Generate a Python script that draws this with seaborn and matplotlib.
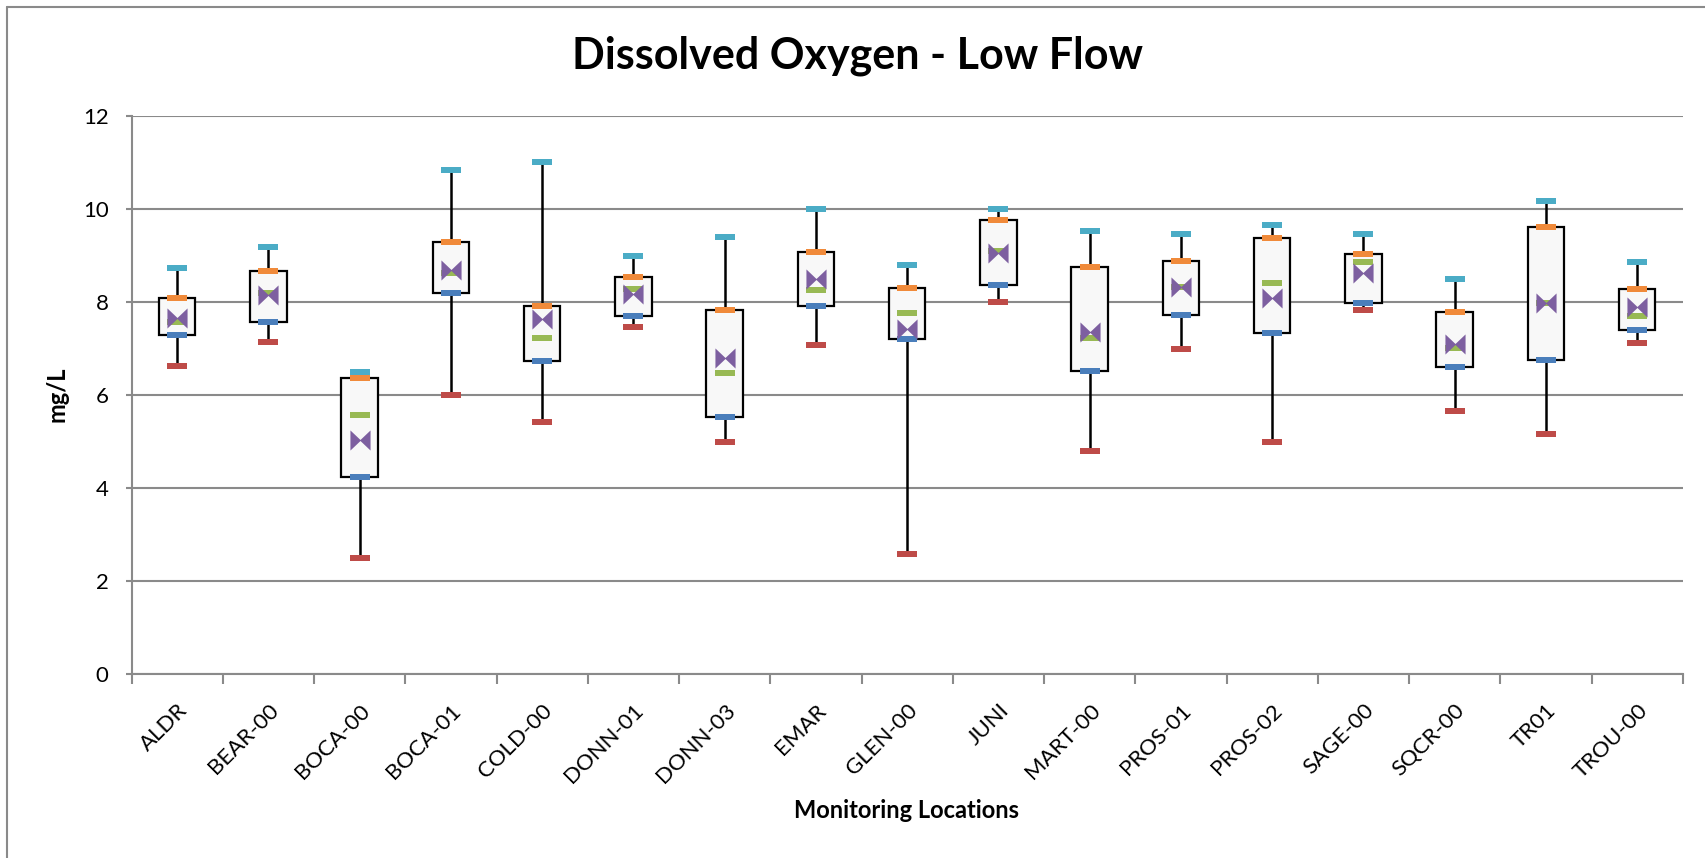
import numpy as np
import pandas as pd
import matplotlib
matplotlib.use("Agg")
import matplotlib.pyplot as plt
import seaborn as sns
from matplotlib.lines import Line2D

# valores (mg/L)
locations = ["ALDR", "BEAR-00", "BOCA-00", "BOCA-01", "COLD-00", "DONN-01",
             "DONN-03", "EMAR", "GLEN-00", "JUNI", "MART-00", "PROS-01",
             "PROS-02", "SAGE-00", "SQCR-00", "TR01", "TROU-00"]
do_min = [6.63, 7.14, 2.50, 6.00, 5.43, 7.47, 5.00, 7.07, 2.59, 8.00, 4.80, 7.00,
          5.00, 7.83, 5.67, 5.16, 7.13]
do_q1 = [7.30, 7.57, 4.25, 8.21, 6.73, 7.70, 5.52, 7.91, 7.20, 8.37, 6.53, 7.72,
         7.34, 7.99, 6.61, 6.75, 7.41]
do_median = [7.57, 8.21, 5.58, 8.64, 7.23, 8.28, 6.47, 8.27, 7.76, 9.10, 7.23, 8.32,
             8.42, 8.87, 7.01, 7.99, 7.71]
do_q3 = [8.09, 8.67, 6.38, 9.29, 7.93, 8.54, 7.84, 9.08, 8.30, 9.78, 8.75, 8.89,
         9.39, 9.03, 7.80, 9.63, 8.28]
do_max = [8.73, 9.20, 6.49, 10.84, 11.01, 9.00, 9.40, 10.00, 8.80, 10.00, 9.53, 9.47,
          9.66, 9.47, 8.50, 10.19, 8.87]
do_mean = [7.66, 8.15, 5.04, 8.69, 7.63, 8.18, 6.79, 8.50, 7.43, 9.06, 7.37, 8.33,
           8.10, 8.63, 7.10, 7.99, 7.89]

sns.set_style("white")
plt.rcParams["font.family"] = ["Lato", "DejaVu Sans"]
plt.rcParams["text.color"] = "black"
plt.rcParams["xtick.color"] = "black"
plt.rcParams["ytick.color"] = "black"

grid_col = "#8a8a8a"
fig = plt.figure(figsize=(17.05, 8.58), dpi=100)
ax = fig.add_axes([0.0772, 0.2145, 0.9098, 0.6498])

pos = np.arange(len(locations))

# cajas: Q1-Q3 y bigotes min-max
stats = []
for i in range(len(locations)):
    stats.append({"med": do_median[i], "q1": do_q1[i], "q3": do_q3[i],
                  "whislo": do_min[i], "whishi": do_max[i], "fliers": []})
ax.bxp(stats, positions=pos, widths=0.4, patch_artist=True, showcaps=False,
       boxprops=dict(facecolor="#f8f8f8", edgecolor="black", linewidth=1.6),
       whiskerprops=dict(color="black", linewidth=1.8),
       medianprops=dict(linewidth=0), zorder=3)

dash = [(-1, -0.25), (1, -0.25), (1, 0.25), (-1, 0.25), (-1, -0.25)]
bowtie = [(-1, -1), (-1, 1), (0, 0.05), (1, 1), (1, -1), (0, -0.05), (-1, -1)]

series = [
    ("Min", do_min, "#be4b48", dash, 225),
    ("Q1", do_q1, "#4a7ebb", dash, 225),
    ("Median", do_median, "#98b954", dash, 225),
    ("Q3", do_q3, "#f08a3a", dash, 225),
    ("Max", do_max, "#4bacc6", dash, 225),
    ("Mean", do_mean, "#7d5fa0", bowtie, 210),
]
for name, vals, col, mk, size in series:
    df = pd.DataFrame({"pos": pos, "val": vals})
    sns.scatterplot(data=df, x="pos", y="val", marker=mk, s=size, color=col,
                    linewidth=0, legend=False, ax=ax, zorder=5)

ax.set_xlim(-0.5, len(locations) - 0.5)
ax.set_ylim(0, 12)
ax.set_yticks(np.arange(0, 13, 2))
ax.yaxis.grid(True, color=grid_col, linewidth=1.5)
ax.set_axisbelow(True)

ax.set_xticks(pos)
ax.set_xticklabels(locations, rotation=45, ha="right", va="top",
                   rotation_mode="anchor")
ax.set_xticks(np.arange(-0.5, len(locations), 1), minor=True)
ax.tick_params(axis="x", which="major", length=0, pad=19, labelsize=16)
ax.tick_params(axis="x", which="minor", length=7, width=1.5, color=grid_col,
               bottom=True)
ax.tick_params(axis="y", length=4.5, width=1.5, color=grid_col, pad=12,
               labelsize=16, left=True, labelcolor="black")

for s in ["top", "right"]:
    ax.spines[s].set_visible(False)
for s in ["left", "bottom"]:
    ax.spines[s].set_color(grid_col)
    ax.spines[s].set_linewidth(1.5)

ax.set_xlabel("")
ax.set_ylabel("")
fig.text(57 / 1705, 1 - 394 / 858, "mg/L", rotation=90, fontsize=17,
         fontweight="bold", ha="center", va="center")
fig.text(907 / 1705, 1 - 811 / 858, "Monitoring Locations", fontsize=17,
         fontweight="bold", ha="center", va="center")
fig.text(857 / 1705, 1 - 56 / 858, "Dissolved Oxygen - Low Flow", fontsize=31,
         fontweight="bold", ha="center", va="center")

# borde del área del gráfico
fig.add_artist(Line2D([7 / 1705, 7 / 1705], [0, 1 - 7 / 858],
                      transform=fig.transFigure, color=grid_col, linewidth=1.5))
fig.add_artist(Line2D([7 / 1705, 1], [1 - 7 / 858, 1 - 7 / 858],
                      transform=fig.transFigure, color=grid_col, linewidth=1.5))

fig.savefig("out.png", dpi=100)
